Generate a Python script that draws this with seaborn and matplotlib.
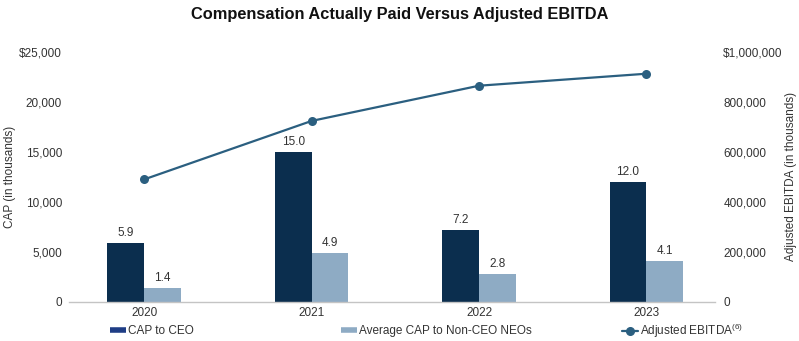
import matplotlib
matplotlib.use("Agg")
import matplotlib.pyplot as plt
from matplotlib.lines import Line2D
import numpy as np
import pandas as pd
import seaborn as sns

# ---- data (in thousands) ----
years = ["2020", "2021", "2022", "2023"]
cap_ceo = [5900, 15000, 7200, 12000]
cap_non_ceo = [1400, 4900, 2800, 4100]
adj_ebitda = [490000, 724000, 865000, 913000]
left_ticks = [0, 5000, 10000, 15000, 20000, 25000]
left_tick_labels = ["0", "5,000", "10,000", "15,000", "20,000", "$25,000"]
right_ticks = [0, 200000, 400000, 600000, 800000, 1000000]
right_tick_labels = ["0", "200,000", "400,000", "600,000", "800,000", "$1,000,000"]
series_names = ["CAP to CEO", "Average CAP to Non-CEO NEOs"]
line_name = "Adjusted EBITDA$^{(6)}$"

sns.set_theme(style="white")
plt.rcParams["font.family"] = ["Liberation Sans", "DejaVu Sans"]
plt.rcParams["mathtext.fontset"] = "custom"
plt.rcParams["mathtext.rm"] = "Liberation Sans"
plt.rcParams["mathtext.it"] = "Liberation Sans"

dark = "#0b2e4e"
light = "#8eabc4"
line_c = "#2b5f80"
txt = "#333333"

df = pd.DataFrame({
    "year": years * 2,
    "series": [series_names[0]] * 4 + [series_names[1]] * 4,
    "value": cap_ceo + cap_non_ceo,
})

fig = plt.figure(figsize=(7.99, 3.41), dpi=100)
ax = fig.add_axes([69 / 799, 1 - 301.7 / 341, (715 - 69) / 799, (301.7 - 52) / 341])

sns.barplot(data=df, x="year", y="value", hue="series", hue_order=series_names,
            palette={series_names[0]: dark, series_names[1]: light},
            width=0.44, ax=ax, legend=False, errorbar=None, linewidth=0,
            saturation=1)

for cont in ax.containers:
    vals = [b.get_height() for b in cont]
    ax.bar_label(cont, labels=[f"{v/1000:.1f}" for v in vals], padding=3,
                 fontsize=8.5, color=txt)

ax.set_ylim(0, 25000)
ax.set_xlim(-0.45, 3.41)
ax.set_yticks(left_ticks)
ax.set_yticklabels(left_tick_labels)
ax.set_xlabel("")
ax.set_ylabel("CAP (in thousands)", fontsize=8.5, color=txt)
ax.yaxis.set_label_coords((16 - 69) / 646, 0.5)
ax.tick_params(axis="y", length=0, pad=5, labelsize=8.5, labelcolor=txt)
ax.tick_params(axis="x", length=0, pad=4, labelsize=8.5, labelcolor=txt)
for s in ["top", "left", "right"]:
    ax.spines[s].set_visible(False)
ax.spines["bottom"].set_color("#c4c4c4")
ax.spines["bottom"].set_linewidth(1.0)

ax2 = ax.twinx()
sns.lineplot(x=np.arange(len(years)), y=adj_ebitda, ax=ax2, color=line_c,
             marker="o", markersize=6.5, markeredgewidth=0, linewidth=1.6)
ax2.set_ylim(0, 1000000)
ax2.set_xlim(-0.45, 3.41)
ax2.set_yticks(right_ticks)
ax2.set_yticklabels(right_tick_labels)
ax2.set_ylabel("Adjusted EBITDA (in thousands)", fontsize=8.5, color=txt)
ax2.yaxis.set_label_coords((785 - 69) / 646, 0.5)
ax2.tick_params(axis="y", length=0, pad=6, labelsize=8.5, labelcolor=txt)
for s in ax2.spines.values():
    s.set_visible(False)
ax2.grid(False)
ax.grid(False)

fig.suptitle("Compensation Actually Paid Versus Adjusted EBITDA", x=0.5, y=1 - 15 / 341,
             va="center", fontsize=11.8, fontweight="bold", color="#111111")

ly = 1 - 331 / 341
h1 = Line2D([], [], color="#1f3d85", linewidth=4, solid_capstyle="butt")
h2 = Line2D([], [], color=light, linewidth=4, solid_capstyle="butt")
h3 = Line2D([], [], color=line_c, linewidth=1.6, marker="o", markersize=5.5)
for h, lab, x in [(h1, series_names[0], 110), (h2, series_names[1], 341), (h3, line_name, 622)]:
    fig.legend(handles=[h], labels=[lab], loc="center left",
               bbox_to_anchor=(x / 799, ly), frameon=False, fontsize=8.5,
               handlelength=1.35, handletextpad=0.2, borderpad=0, borderaxespad=0,
               labelcolor=txt)

fig.savefig("out.png", dpi=100, facecolor="white")
